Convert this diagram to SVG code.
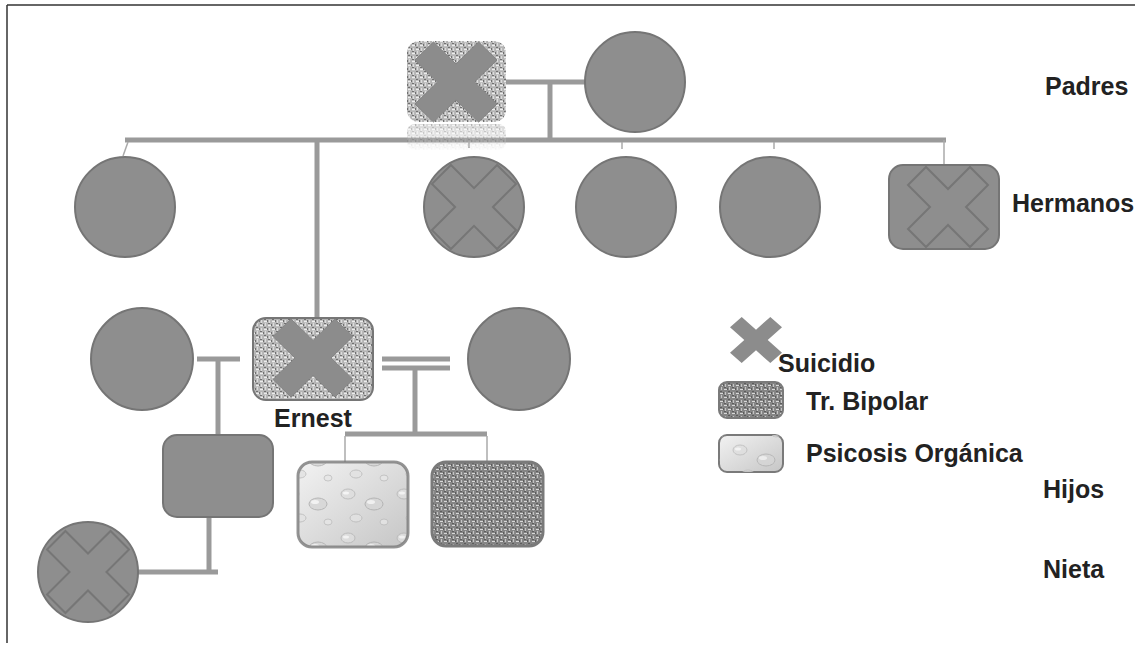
<svg xmlns="http://www.w3.org/2000/svg" width="1135" height="646" viewBox="0 0 1135 646">
<style>
.lbl{font-family:"Liberation Sans",Arial,sans-serif;font-weight:bold;font-size:25px;fill:#222}
.ln{stroke:#9a9a9a;stroke-width:5;fill:none}
.tk{stroke:#aaaaaa;stroke-width:1.5;fill:none}
.sh{fill:#8e8e8e;stroke:#757575;stroke-width:2}
.xo{fill:none;stroke:#767676;stroke-width:2}
.xs{fill:#8c8c8c;stroke:#848484;stroke-width:1}
</style>
<defs>
<polygon id="xp" vector-effect="non-scaling-stroke" points="-0.55,-1 0,-0.45 0.55,-1 1,-0.55 0.45,0 1,0.55 0.55,1 0,0.45 -0.55,1 -1,0.55 -0.45,0 -1,-0.55"/>
<pattern id="weaveL" width="8" height="8" patternUnits="userSpaceOnUse">
<rect width="8" height="8" fill="#b4b4b4"/>
<path d="M0 1.5h3M4 5.5h3" stroke="#ececec" stroke-width="1.3"/>
<path d="M1.5 3v3M5.5 0v3" stroke="#dcdcdc" stroke-width="1.2"/>
<path d="M3.5 0v2M7.5 4v2M0 7.5h2M4 3.5h2" stroke="#707070" stroke-width="1"/>
</pattern>
<pattern id="weaveD" width="8" height="8" patternUnits="userSpaceOnUse">
<rect width="8" height="8" fill="#858585"/>
<path d="M0 1.5h3M4 5.5h3" stroke="#d8d8d8" stroke-width="1.2"/>
<path d="M1.5 3v3M5.5 0v3" stroke="#c4c4c4" stroke-width="1.1"/>
<path d="M3.5 0v2M7.5 4v2M0 7.5h2M4 3.5h2" stroke="#5c5c5c" stroke-width="1"/>
</pattern>
<linearGradient id="dropG" x1="0" y1="0" x2="1" y2="1">
<stop offset="0" stop-color="#f2f2f2"/>
<stop offset="1" stop-color="#c6c6c6"/>
</linearGradient>
<pattern id="drops" width="56" height="44" patternUnits="userSpaceOnUse">
<ellipse cx="12" cy="10" rx="7" ry="5" fill="#dedede" stroke="#b4b4b4" stroke-width="1"/>
<ellipse cx="38" cy="20" rx="9" ry="6" fill="#d6d6d6" stroke="#aaaaaa" stroke-width="1"/>
<ellipse cx="20" cy="34" rx="6" ry="4" fill="#e2e2e2" stroke="#b8b8b8" stroke-width="1"/>
<ellipse cx="48" cy="38" rx="4" ry="3" fill="#e6e6e6" stroke="#bcbcbc" stroke-width="1"/>
<ellipse cx="10" cy="9" rx="3" ry="1.5" fill="#fafafa"/>
<ellipse cx="35" cy="18" rx="4" ry="2" fill="#f6f6f6"/>
</pattern>
<linearGradient id="refG" x1="0" y1="0" x2="0" y2="1">
<stop offset="0" stop-color="#fff" stop-opacity="0.55"/>
<stop offset="1" stop-color="#fff" stop-opacity="0"/>
</linearGradient>
<mask id="refM"><rect x="400" y="124" width="112" height="28" fill="url(#refG)"/></mask>
</defs>
<rect width="1135" height="646" fill="#ffffff"/>
<g id="frame" stroke="#333" stroke-width="1.5">
<line x1="7" y1="5" x2="1135" y2="5"/>
<line x1="7" y1="5" x2="7" y2="643"/>
</g>

<g id="connectors">
<line class="ln" x1="506" y1="82" x2="585" y2="82"/>
<line class="ln" x1="550" y1="82" x2="550" y2="140"/>
<line class="ln" x1="125" y1="140" x2="946" y2="140"/>
<line class="tk" x1="128" y1="142" x2="123" y2="156"/>
<line class="tk" x1="469" y1="142" x2="469" y2="148"/>
<line class="tk" x1="622" y1="142" x2="622" y2="149"/>
<line class="tk" x1="774" y1="142" x2="774" y2="149"/>
<line class="tk" x1="944" y1="140" x2="944" y2="165" stroke-width="2"/>
<line class="ln" x1="317" y1="140" x2="317" y2="318"/>
<line class="ln" x1="197" y1="359" x2="240" y2="359"/>
<line class="ln" x1="218" y1="359" x2="218" y2="435"/>
<line class="ln" x1="382" y1="359" x2="450" y2="359" stroke-width="4"/>
<line class="ln" x1="382" y1="368" x2="450" y2="368" stroke-width="4"/>
<line class="ln" x1="415" y1="368" x2="415" y2="434"/>
<line class="ln" x1="345" y1="434" x2="487" y2="434"/>
<line class="tk" x1="345" y1="436" x2="345" y2="462"/>
<line class="tk" x1="487" y1="436" x2="487" y2="462"/>
<line class="ln" x1="209" y1="517" x2="209" y2="572"/>
<line class="ln" x1="138" y1="572" x2="218" y2="572"/>
</g>

<g id="father">
<rect x="407" y="41" width="99" height="81" rx="12" fill="url(#weaveL)"/>
<use href="#xp" class="xs" transform="translate(456,82) scale(41,40)"/>
<rect x="407" y="124" width="99" height="26" rx="8" fill="url(#weaveL)" mask="url(#refM)"/>
</g>
<g id="mother"><circle class="sh" cx="635" cy="82" r="50"/></g>

<g id="sibling1"><circle class="sh" cx="125" cy="207" r="50"/></g>
<g id="sibling2"><circle class="sh" cx="474" cy="207" r="50"/>
<use href="#xp" class="xo" transform="translate(474,207) scale(42)"/></g>
<g id="sibling3"><circle class="sh" cx="626" cy="207" r="50"/></g>
<g id="sibling4"><circle class="sh" cx="770" cy="207" r="50"/></g>
<g id="sibling5"><rect class="sh" x="889" y="165" width="110" height="84" rx="14"/>
<use href="#xp" class="xo" transform="translate(948,207) scale(40)"/></g>

<g id="wife1"><circle class="sh" cx="142" cy="359" r="51"/></g>
<g id="ernest">
<rect x="253" y="318" width="120" height="82" rx="13" fill="url(#weaveL)" stroke="#767676" stroke-width="2"/>
<use href="#xp" class="xs" transform="translate(313,358) scale(40,39)"/>
<text class="lbl" x="313" y="427" text-anchor="middle">Ernest</text>
</g>
<g id="wife2"><circle class="sh" cx="519" cy="359" r="51"/></g>

<g id="child1"><rect class="sh" x="163" y="435" width="110" height="82" rx="14"/></g>
<g id="child2">
<rect x="298" y="462" width="110" height="85" rx="14" fill="url(#dropG)"/>
<rect x="298" y="462" width="110" height="85" rx="14" fill="url(#drops)" opacity="0.8" stroke="#7a7a7a" stroke-width="3"/>
</g>
<g id="child3"><rect x="432" y="462" width="111" height="84" rx="14" fill="url(#weaveD)" stroke="#7a7a7a" stroke-width="3"/></g>

<g id="granddaughter"><circle class="sh" cx="88" cy="572" r="50"/>
<use href="#xp" class="xo" transform="translate(88,572) scale(41)"/></g>

<g id="legend">
<use href="#xp" fill="#8c8c8c" transform="translate(756,340) scale(26,23)"/>
<text class="lbl" x="778" y="372">Suicidio</text>
<rect x="719" y="382" width="64" height="36" rx="8" fill="url(#weaveD)" stroke="#7a7a7a" stroke-width="2"/>
<text class="lbl" x="806" y="410">Tr. Bipolar</text>
<rect x="719" y="435" width="64" height="37" rx="8" fill="url(#dropG)" stroke="#7a7a7a" stroke-width="2"/>
<rect x="719" y="435" width="64" height="37" rx="8" fill="url(#drops)" opacity="0.7"/>
<text class="lbl" x="806" y="462">Psicosis Orgánica</text>
</g>

<g id="generations">
<text class="lbl" x="1045" y="95">Padres</text>
<text class="lbl" x="1012" y="212">Hermanos</text>
<text class="lbl" x="1043" y="498">Hijos</text>
<text class="lbl" x="1043" y="578">Nieta</text>
</g>
</svg>
